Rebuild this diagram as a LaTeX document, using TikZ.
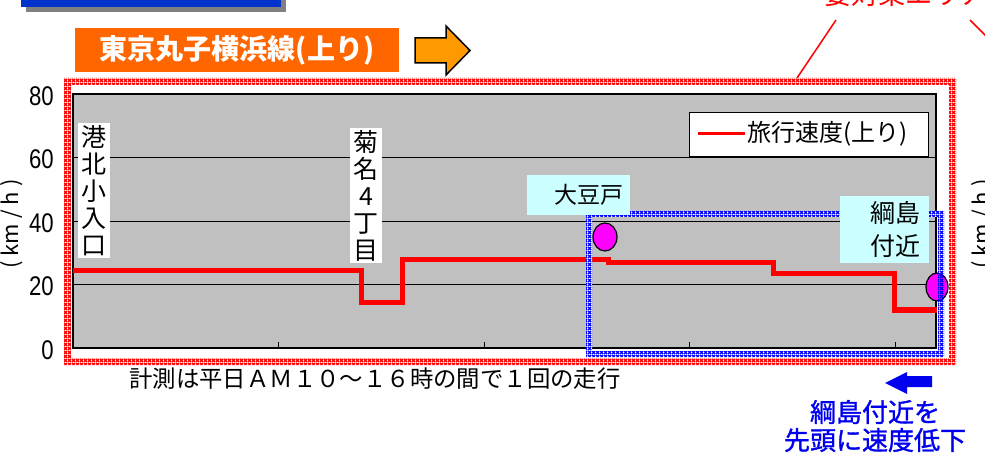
\documentclass[tikz,border=0pt]{standalone}
\usepackage{fontspec}
\setmainfont{Noto Sans CJK JP}
\newfontfamily\narrowfont[FakeStretch=0.82]{Liberation Sans}
\newfontfamily\medcjk[FakeBold=1.2]{Noto Sans CJK JP}
\usetikzlibrary{patterns,positioning,shapes.geometric}

\definecolor{barblue}{HTML}{0033CC}
\definecolor{shadowgray}{HTML}{808080}
\definecolor{titleorange}{HTML}{FF6600}
\definecolor{arroworange}{HTML}{FF9900}
\definecolor{plotgray}{HTML}{C0C0C0}
\definecolor{spotcyan}{HTML}{CCFFFF}
\definecolor{spotmagenta}{HTML}{FF00FF}
\definecolor{notered}{HTML}{FF0000}
\definecolor{noteblue}{HTML}{0000EE}

\pgfdeclarepatternformonly{checkmesh}{\pgfpointorigin}{\pgfqpoint{4pt}{4pt}}%
  {\pgfqpoint{4pt}{4pt}}%
  {\pgfsetlinewidth{1.7pt}
   \pgfpathmoveto{\pgfqpoint{0pt}{0pt}}\pgfpathlineto{\pgfqpoint{4pt}{4pt}}
   \pgfpathmoveto{\pgfqpoint{0pt}{4pt}}\pgfpathlineto{\pgfqpoint{4pt}{0pt}}
   \pgfusepath{stroke}}

\tikzset{
  titlebox/.style={fill=titleorange, text=white, font=\fontsize{28}{30}\selectfont\bfseries,
    minimum width=324pt, minimum height=44pt, inner sep=0pt},
  dirarrow/.style={fill=arroworange, draw=black, line width=1.5pt, line join=miter},
  redmesh/.style={pattern=checkmesh, pattern color=notered},
  bluemesh/.style={pattern=checkmesh, pattern color=blue},
  gridline/.style={draw=black, line width=0.8pt},
  frameline/.style={draw=black, line width=1.5pt},
  ticklabel/.style={anchor=east, inner sep=0pt, font=\narrowfont\fontsize{27}{27}\selectfont},
  unitlabel/.style={rotate=90, inner sep=0pt, font=\fontsize{22}{22}\selectfont},
  speedline/.style={draw=red, line width=5pt, line join=miter},
  legendbox/.style={fill=white, draw=black, line width=0.8pt, minimum width=239pt,
    minimum height=44pt, inner sep=0pt},
  stationlabel/.style={fill=white, align=center, inner xsep=3.5pt, inner ysep=2pt,
    font=\fontsize{25}{27}\selectfont},
  spotlabel/.style={fill=spotcyan, align=right, font=\fontsize{23}{33}\selectfont},
  spot/.style={ellipse, fill=spotmagenta, draw=black, line width=1.2pt, inner sep=0pt},
  bluenote/.style={text=noteblue, align=center, font=\medcjk\fontsize{26}{28}\selectfont}
}

\begin{document}
\begin{tikzpicture}[x=1pt,y=-1pt]
\useasboundingbox (0,0) rectangle (985,462);
\clip (0,0) rectangle (985,462);

% header bar
\fill[shadowgray] (26,-5) rectangle (286,12);
\fill[barblue] (21,-5) rectangle (281,7);

\node[titlebox] (title) at (237,50) {東京丸子横浜線(上り)};
\draw[dirarrow] (415,38) -- (446,38) -- (446,26) -- (470,50.5) -- (446,75)
  -- (446,63) -- (415,63) -- cycle;

% area to be treated
\fill[redmesh, even odd rule] (64,78) rectangle (956,365) (71,85) rectangle (949,358);

% chart
\fill[plotgray] (73,94) rectangle (936,348);
\foreach \v in {20,40,60}
  \draw[gridline] (73,{348-3.175*\v}) -- (936,{348-3.175*\v});
\foreach \t in {1,...,4}
  \draw[gridline] ({73+205.5*\t},348) -- ++(0,-6);
\draw[frameline] (73,94) rectangle (936,348);
\foreach \v in {0,20,...,80}
  \node[ticklabel] (tick\v) at (54,{350-3.175*\v}) {\v};

\node[unitlabel] (unitleft) at (12,224) {( km / h )};
\node[unitlabel] (unitright) at (983,224) {( km / h )};

\draw[speedline] (73,271) -| (361,303) -| (402,260) -| (608,263) -| (773,274)
  -| (894,310) -- (937,310);

% legend
\node[legendbox] (legend) at (808.5,134) {};
\draw[draw=red, line width=3pt] ([xshift=9pt]legend.west) -- ++(47,0) coordinate (legendend);
\node[right=3pt of legendend, inner sep=0pt, font=\fontsize{24}{24}\selectfont] (legendtext) {旅行速度(上り)};

% stations
\node[stationlabel, anchor=north] (kohoku) at (94,123) {港\\北\\小\\入\\口};
\node[stationlabel, anchor=north] (kikuna) at (366,128) {菊\\名\\4\\丁\\目};

% bottleneck area
\fill[white, even odd rule] (586,211) rectangle (944,357) (592,217) rectangle (938,351);
\node[spot, minimum width=24pt, minimum height=28pt] (odospot) at (605,237) {};
\node[spot, minimum width=22pt, minimum height=28pt] (tsunaspot) at (937,287) {};
\fill[bluemesh, even odd rule] (586,211) rectangle (944,357) (592,217) rectangle (938,351);

\node[spotlabel, text width=90pt, inner xsep=6.5pt, inner ysep=4pt, minimum height=40pt]
  (odo) at (578.5,195) {大豆戸};
\node[spotlabel, text width=71pt, inner xsep=9pt, inner ysep=4.5pt, minimum height=67pt,
  font=\fontsize{25}{33}\selectfont] (tsuna) at (884.5,229.5) {綱島\\付近};

% notes
\node[font=\fontsize{23.4}{23.4}\selectfont, inner sep=0pt] (note) at (375,379)
  {計測は平日ＡＭ１０～１６時の間で１回の走行};
\fill[noteblue] (885,383) -- (907,372) -- (907,376) -- (932,376) -- (932,387)
  -- (907,387) -- (907,394) -- cycle;
\node[bluenote] (bluetext) at (875,426) {綱島付近を\\先頭に速度低下};

\node[anchor=base west, inner sep=0pt, text=notered, font=\fontsize{27}{27}\selectfont]
  (arealabel) at (824,5) {要対策エリア};
\coordinate (areatop) at (797,78);
\coordinate (arealeft) at (836,20);
\coordinate (arearight) at (970,20);
\coordinate (areaout) at (992,42);
\draw[notered, line width=1.5pt] (areatop) -- (arealeft);
\draw[notered, line width=1.5pt] (arearight) -- (areaout);
\end{tikzpicture}
\end{document}
